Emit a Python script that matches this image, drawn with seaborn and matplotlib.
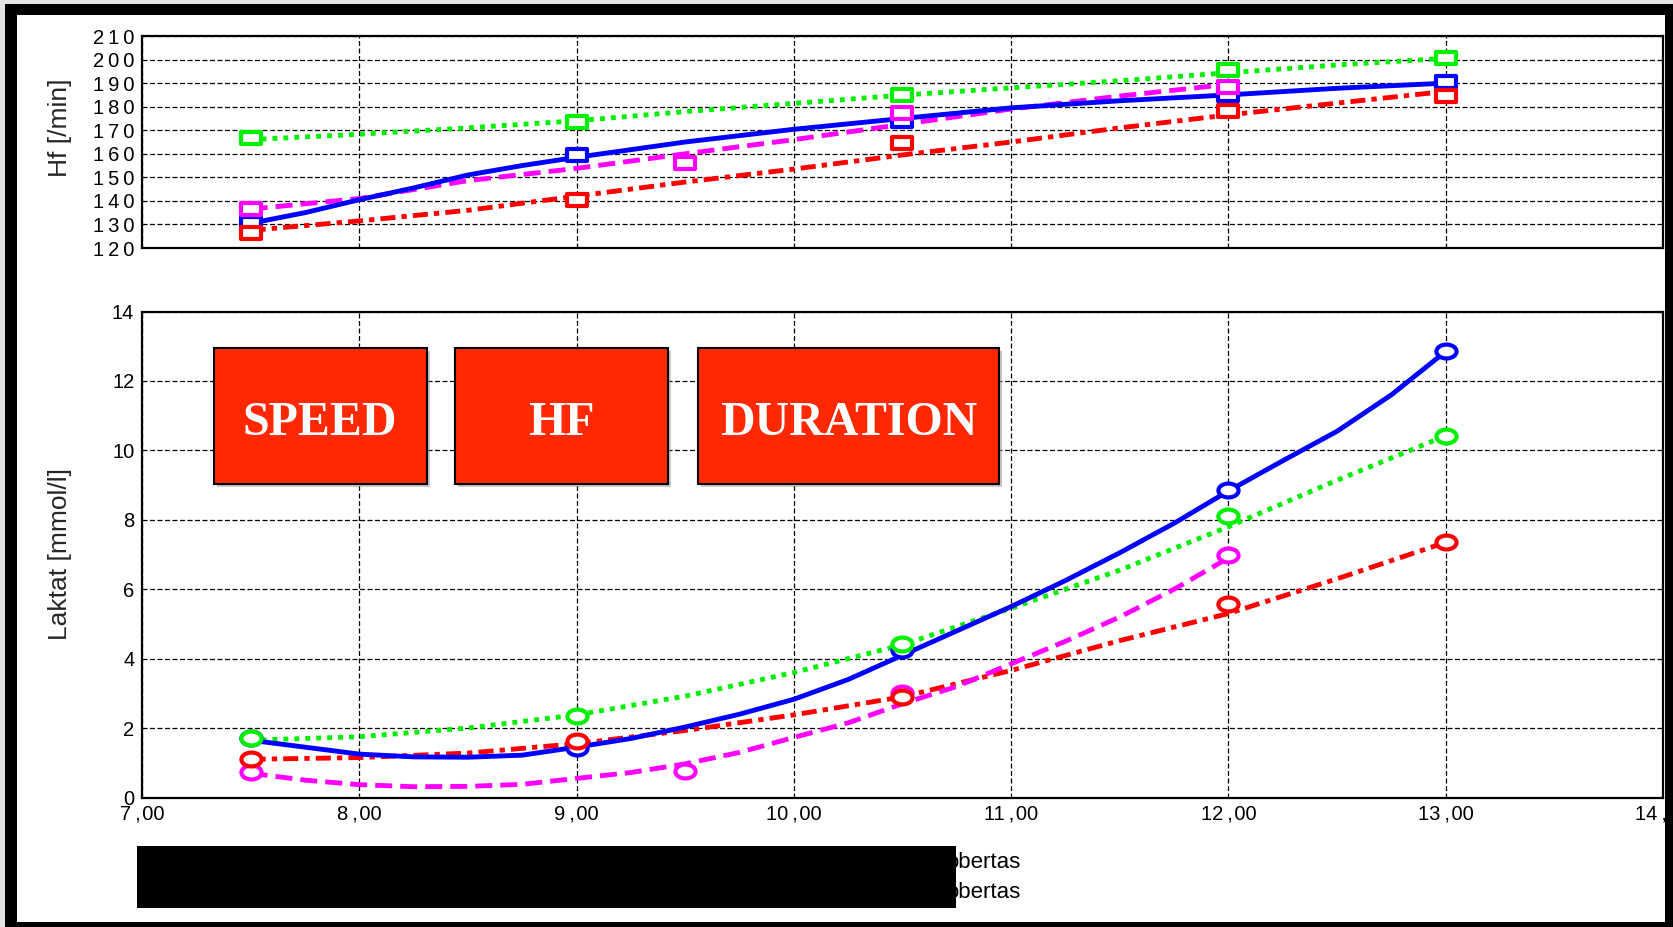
import numpy as np
import pandas as pd
import matplotlib
matplotlib.use("Agg")
import matplotlib.pyplot as plt
import seaborn as sns
from matplotlib.path import Path
from matplotlib.transforms import Affine2D
from matplotlib.patches import Rectangle

# ---------------- data ----------------
x_ticks = [7, 8, 9, 10, 11, 12, 13, 14]
x_tick_labels = ["7\u2009,\u200a00", "8\u2009,\u200a00", "9\u2009,\u200a00", "10\u2009,\u200a00",
                 "11\u2009,\u200a00", "12\u2009,\u200a00", "13\u2009,\u200a00", "14\u2009,\u200a00"]
hf_ticks = [120, 130, 140, 150, 160, 170, 180, 190, 200, 210]
hf_tick_labels = ["1\u20092\u20090", "1\u20093\u20090", "1\u20094\u20090", "1\u20095\u20090", "1\u20096\u20090",
                  "1\u20097\u20090", "1\u20098\u20090", "1\u20099\u20090", "2\u20090\u20090", "2\u20091\u20090"]
lak_ticks = [0, 2, 4, 6, 8, 10, 12, 14]
lak_tick_labels = ["0", "2", "4", "6", "8", "10", "12", "14"]

# Heart rate (top panel) - fitted curves
hf_blue_x = [7.5, 7.75, 8.0, 8.25, 8.5, 8.75, 9.0, 9.5, 10.0, 10.5, 11.0, 11.5, 12.0, 12.5, 13.0]
hf_blue_y = [130.5, 135, 140.5, 145.5, 151, 155, 158.5, 165, 170.4, 175, 179.5, 182.5, 185, 187.8, 190]
hf_mag_x = [7.5, 8.0, 8.5, 9.0, 9.5, 10.0, 10.5, 11.0, 11.5, 12.0]
hf_mag_y = [136.5, 141, 148.6, 153.8, 160, 166, 172.5, 179, 184.5, 189.5]
hf_red_x = [7.5, 8.0, 8.5, 9.0, 9.5, 10.0, 10.5, 11.0, 11.5, 12.0, 12.5, 13.0]
hf_red_y = [127.5, 131.5, 136, 142, 148, 153.5, 159.5, 165, 171, 176.5, 181.5, 186.5]
hf_green_x = [7.5, 8.0, 8.5, 9.0, 9.5, 10.0, 10.5, 11.0, 11.5, 12.0, 12.5, 13.0]
hf_green_y = [166, 168.3, 171, 174, 177.9, 181.4, 184.9, 188, 191, 194.4, 197.7, 200.5]

# Heart rate measured points (squares)
hf_blue_px = [7.5, 9.0, 10.5, 12.0, 13.0]
hf_blue_pv = [130.6, 159.5, 173.8, 185, 190.5]
hf_mag_px = [7.5, 9.5, 10.5, 12.0]
hf_mag_pv = [136.4, 156.2, 177.2, 188.2]
hf_red_px = [7.5, 9.0, 10.5, 12.0, 13.0]
hf_red_pv = [126.2, 140.4, 164.4, 178.1, 184.5]
hf_green_px = [7.5, 9.0, 10.5, 12.0, 13.0]
hf_green_pv = [166.5, 173.6, 185, 195.5, 200.5]

# Lactate (bottom panel) - fitted curves
lak_blue_x = [7.5, 7.75, 8.0, 8.25, 8.5, 8.75, 9.0, 9.25, 9.5, 9.75, 10.0, 10.25, 10.5, 10.75,
              11.0, 11.25, 11.5, 11.75, 12.0, 12.25, 12.5, 12.75, 13.0]
lak_blue_y = [1.65, 1.45, 1.25, 1.17, 1.16, 1.22, 1.45, 1.7, 2.03, 2.4, 2.83, 3.4, 4.1, 4.8,
              5.5, 6.25, 7.05, 7.9, 8.83, 9.7, 10.55, 11.6, 12.85]
lak_green_x = [7.5, 8.0, 8.5, 9.0, 9.5, 10.0, 10.5, 11.0, 11.5, 12.0, 12.5, 13.0]
lak_green_y = [1.65, 1.75, 2.0, 2.38, 2.92, 3.6, 4.4, 5.45, 6.55, 7.8, 9.14, 10.42]
lak_red_x = [7.5, 8.0, 8.5, 9.0, 9.5, 10.0, 10.5, 11.0, 11.5, 12.0, 12.5, 13.0]
lak_red_y = [1.1, 1.15, 1.28, 1.55, 1.93, 2.38, 2.9, 3.66, 4.52, 5.3, 6.3, 7.35]
lak_mag_x = [7.5, 7.75, 8.0, 8.25, 8.5, 8.75, 9.0, 9.25, 9.5, 9.75, 10.0, 10.25, 10.5, 10.75,
             11.0, 11.25, 11.5, 11.75, 12.0]
lak_mag_y = [0.7, 0.5, 0.37, 0.31, 0.32, 0.38, 0.55, 0.72, 0.97, 1.3, 1.73, 2.15, 2.7, 3.2,
             3.85, 4.5, 5.2, 6.0, 6.9]

# Lactate measured points (circles)
lak_blue_px = [7.5, 9.0, 10.5, 12.0, 13.0]
lak_blue_pv = [1.7, 1.42, 4.25, 8.85, 12.85]
lak_green_px = [7.5, 9.0, 10.5, 12.0, 13.0]
lak_green_pv = [1.72, 2.34, 4.43, 8.12, 10.42]
lak_red_px = [7.5, 9.0, 10.5, 12.0, 13.0]
lak_red_pv = [1.11, 1.63, 2.89, 5.57, 7.36]
lak_mag_px = [7.5, 9.5, 10.5, 12.0]
lak_mag_pv = [0.74, 0.77, 3.02, 6.98]

box_labels = ["SPEED", "HF", "DURATION"]
legend_texts = ["obertas", "obertas"]

# ---------------- style ----------------
sns.set_style("white")
plt.rcParams["font.family"] = ["Liberation Sans", "DejaVu Sans"]

BLUE, GREEN, RED, MAG = "#0000ff", "#00f000", "#ff0000", "#ff00ff"
LW = 3.5
MEW = 3.0
styles = {
    "blue": dict(color=BLUE, linestyle="-"),
    "green": dict(color=GREEN, linestyle=(0, (1.0, 1.25))),
    "red": dict(color=RED, linestyle=(0, (3.1, 1.25, 1.1, 1.25))),
    "mag": dict(color=MAG, linestyle=(0, (3.5, 1.65))),
}

W, H = 1674, 927
fig = plt.figure(figsize=(W / 100, H / 100), dpi=100)
fig.patch.set_facecolor("white")

def frect(x0, y0, x1, y1, **kw):
    r = Rectangle((x0 / W, 1 - y1 / H), (x1 - x0) / W, (y1 - y0) / H,
                  transform=fig.transFigure, **kw)
    fig.add_artist(r)
    return r

# outer frame background
frect(0, 0, W, H, facecolor="#e4e4e4", edgecolor="none", zorder=-10)
frect(5, 4, W, H, facecolor="black", edgecolor="none", zorder=-9)
frect(17, 15, 1665, 922, facecolor="white", edgecolor="none", zorder=-8)

ax_top = fig.add_axes([142 / W, 1 - 248 / H, 1521 / W, 212 / H])
ax_bot = fig.add_axes([142 / W, 1 - 797.5 / H, 1521 / W, 486 / H])

sq = Path([[-1.5, -1], [1.5, -1], [1.5, 1], [-1.5, 1], [-1.5, -1]],
          [Path.MOVETO, Path.LINETO, Path.LINETO, Path.LINETO, Path.CLOSEPOLY])
ell = Path.unit_circle().transformed(Affine2D().scale(1.45, 1.0))

def draw_line(ax, x, y, key):
    st = styles[key]
    sns.lineplot(x=x, y=y, ax=ax, color=st["color"], linestyle=st["linestyle"],
                 linewidth=LW, estimator=None, errorbar=None, sort=False, legend=False,
                 zorder=3)

def draw_pts(ax, x, y, key, marker, size):
    st = styles[key]
    sns.scatterplot(x=x, y=y, ax=ax, marker=marker, s=size ** 2, facecolor="white",
                    edgecolor=st["color"], linewidth=MEW, legend=False, zorder=4)

# top panel
draw_line(ax_top, hf_green_x, hf_green_y, "green")
draw_line(ax_top, hf_red_x, hf_red_y, "red")
draw_line(ax_top, hf_mag_x, hf_mag_y, "mag")
draw_line(ax_top, hf_blue_x, hf_blue_y, "blue")
draw_pts(ax_top, hf_blue_px, hf_blue_pv, "blue", sq, 13.8)
draw_pts(ax_top, hf_red_px, hf_red_pv, "red", sq, 13.8)
draw_pts(ax_top, hf_mag_px, hf_mag_pv, "mag", sq, 13.8)
draw_pts(ax_top, hf_green_px, hf_green_pv, "green", sq, 13.8)

# bottom panel
draw_line(ax_bot, lak_green_x, lak_green_y, "green")
draw_line(ax_bot, lak_red_x, lak_red_y, "red")
draw_line(ax_bot, lak_mag_x, lak_mag_y, "mag")
draw_line(ax_bot, lak_blue_x, lak_blue_y, "blue")
draw_pts(ax_bot, lak_blue_px, lak_blue_pv, "blue", ell, 14.5)
draw_pts(ax_bot, lak_mag_px, lak_mag_pv, "mag", ell, 14.5)
draw_pts(ax_bot, lak_red_px, lak_red_pv, "red", ell, 14.5)
draw_pts(ax_bot, lak_green_px, lak_green_pv, "green", ell, 14.5)

for ax in (ax_top, ax_bot):
    ax.set_facecolor("white")
    ax.set_xlim(7, 14)
    ax.set_xticks(x_ticks)
    ax.set_axisbelow(True)
    ax.grid(True, color="black", linestyle=(0, (4, 2)), linewidth=0.9)
    ax.tick_params(length=0, labelsize=14.5, pad=5.5, colors="black")
    for s in ax.spines.values():
        s.set_visible(True)
        s.set_color("black")
        s.set_linewidth(1.6)
    ax.set_xlabel("")

ax_top.set_ylim(120, 210)
ax_top.set_yticks(hf_ticks)
ax_top.set_yticklabels(hf_tick_labels)
ax_top.tick_params(axis="x", labelbottom=False)
ax_top.set_ylabel("Hf [/min]", fontsize=19)
ax_top.yaxis.set_label_coords(-0.046, 0.565)

ax_bot.set_ylim(0, 14)
ax_bot.set_yticks(lak_ticks)
ax_bot.set_yticklabels(lak_tick_labels)
ax_bot.set_xticklabels(x_tick_labels)
ax_bot.tick_params(axis="x", pad=5)
ax_bot.set_ylabel("Laktat [mmol/l]", fontsize=19)
ax_bot.yaxis.set_label_coords(-0.046, 0.5)

# red label boxes
boxes = [(213.6, 426.6), (455, 668), (697.6, 999.5)]
for (x0, x1), lab in zip(boxes, box_labels):
    frect(x0 + 3, 350.5, x1 + 3, 486.5, facecolor="#9a9a9a", edgecolor="none", alpha=0.55, zorder=5)
    frect(x0, 347.5, x1, 483.5, facecolor="#ff2800", edgecolor="black", linewidth=1.5, zorder=6)
    fig.text((x0 + x1) / 2 / W, 1 - 435 / H, lab, ha="center", va="baseline",
             color="white", fontsize=34.5, fontweight="bold",
             family=["Liberation Serif", "DejaVu Serif"], zorder=7)

# legend remnants and redaction bar
for yy, t in zip([862.7, 892.7], legend_texts):
    fig.text(946 / W, 1 - yy / H, t, ha="left", va="center", fontsize=16,
             color="black", zorder=4)
frect(137, 845.5, 956, 908, facecolor="black", edgecolor="none", zorder=10)

# frame strips on top
frect(0, 0, 5, H, facecolor="#e4e4e4", edgecolor="none", zorder=11)
frect(0, 0, W, 4, facecolor="#e4e4e4", edgecolor="none", zorder=11)
frect(5, 4, 17, H, facecolor="black", edgecolor="none", zorder=12)
frect(5, 4, W, 15, facecolor="black", edgecolor="none", zorder=12)
frect(1665, 4, W, H, facecolor="black", edgecolor="none", zorder=12)
frect(5, 922, W, H, facecolor="black", edgecolor="none", zorder=12)

fig.savefig("out.png", dpi=100, facecolor=fig.get_facecolor())
